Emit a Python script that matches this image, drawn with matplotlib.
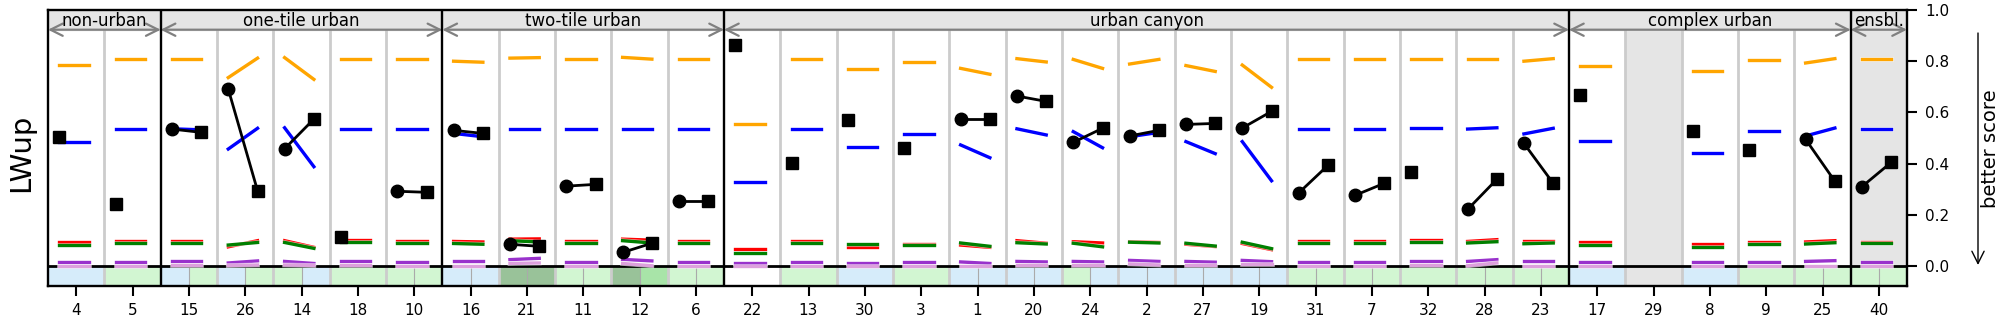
import numpy as np
import matplotlib.pyplot as plt
import matplotlib.patheffects as pe

nan = np.nan

sites = [4, 5, 15, 26, 14, 18, 10, 16, 21, 11, 12, 6, 22, 13, 30, 3, 1, 20, 24, 2,
         27, 19, 31, 7, 32, 28, 23, 17, 29, 8, 9, 25, 40]
group_names = ["non-urban", "one-tile urban", "two-tile urban", "urban canyon",
               "complex urban", "ensbl."]
group_sizes = [2, 5, 5, 15, 5, 1]

# black markers: stage 1 (circle) and stage 2 (square)
obs_circle = [nan, nan, 0.535, 0.691, 0.458, nan, 0.292, 0.530, 0.085, 0.312, 0.053,
              0.253, nan, nan, nan, nan, 0.574, 0.664, 0.483, 0.508, 0.553, 0.539,
              0.285, 0.276, nan, 0.221, 0.479, nan, nan, nan, nan, 0.495, 0.310]
obs_square = [0.505, 0.241, 0.522, 0.294, 0.574, 0.112, 0.288, 0.518, 0.077, 0.319,
              0.089, 0.253, 0.862, 0.401, 0.569, 0.460, 0.574, 0.643, 0.538, 0.530,
              0.557, 0.604, 0.393, 0.323, 0.366, 0.339, 0.323, 0.669, nan, 0.526,
              0.453, 0.331, 0.405]

# benchmark scores, value at stage 1 and stage 2
orange_start = [0.784, 0.807, 0.810, 0.736, 0.814, 0.807, 0.807, 0.800, 0.812, 0.807,
                0.815, 0.807, 0.553, 0.807, 0.768, 0.796, 0.772, 0.810, 0.807, 0.789,
                0.783, 0.785, 0.807, 0.807, 0.807, 0.807, 0.800, 0.780, nan, 0.762,
                0.803, 0.793, 0.807]
orange_end = [0.784, 0.807, 0.810, 0.812, 0.729, 0.807, 0.807, 0.796, 0.814, 0.807,
              0.808, 0.807, 0.553, 0.807, 0.768, 0.796, 0.749, 0.797, 0.772, 0.807,
              0.760, 0.698, 0.807, 0.807, 0.807, 0.807, 0.810, 0.780, nan, 0.762,
              0.803, 0.810, 0.807]
blue_start = [0.483, 0.535, 0.536, 0.457, 0.540, 0.535, 0.535, 0.518, 0.535, 0.535,
              0.536, 0.535, 0.327, 0.535, 0.465, 0.514, 0.473, 0.536, 0.525, 0.505,
              0.486, 0.486, 0.535, 0.535, 0.538, 0.535, 0.516, 0.487, nan, 0.440,
              0.526, 0.508, 0.535]
blue_end = [0.483, 0.535, 0.532, 0.538, 0.388, 0.535, 0.535, 0.505, 0.535, 0.535,
            0.536, 0.535, 0.327, 0.535, 0.465, 0.514, 0.423, 0.512, 0.462, 0.522,
            0.439, 0.333, 0.535, 0.535, 0.538, 0.540, 0.538, 0.487, nan, 0.440,
            0.526, 0.539, 0.535]
red_start = [0.092, 0.098, 0.099, 0.075, 0.099, 0.100, 0.099, 0.096, 0.105, 0.099,
             0.105, 0.099, 0.065, 0.099, 0.075, 0.087, 0.082, 0.099, 0.095, 0.095,
             0.085, 0.088, 0.099, 0.099, 0.103, 0.096, 0.099, 0.092, nan, 0.085,
             0.094, 0.094, 0.094]
red_end = [0.092, 0.098, 0.099, 0.099, 0.073, 0.100, 0.099, 0.094, 0.106, 0.099,
           0.101, 0.099, 0.065, 0.099, 0.075, 0.087, 0.073, 0.089, 0.090, 0.092,
           0.076, 0.064, 0.099, 0.099, 0.103, 0.103, 0.099, 0.092, nan, 0.085,
           0.094, 0.099, 0.094]
green_start = [0.082, 0.090, 0.090, 0.082, 0.092, 0.094, 0.090, 0.088, 0.099, 0.090,
               0.099, 0.090, 0.052, 0.090, 0.085, 0.084, 0.090, 0.091, 0.089, 0.093,
               0.089, 0.093, 0.090, 0.090, 0.095, 0.090, 0.087, 0.082, nan, 0.076,
               0.087, 0.086, 0.090]
green_end = [0.082, 0.090, 0.090, 0.092, 0.069, 0.094, 0.090, 0.085, 0.094, 0.090,
             0.090, 0.090, 0.052, 0.090, 0.085, 0.084, 0.077, 0.086, 0.075, 0.090,
             0.078, 0.068, 0.090, 0.090, 0.095, 0.095, 0.090, 0.082, nan, 0.076,
             0.087, 0.091, 0.090]
purple_start = [0.015, 0.016, 0.018, 0.012, 0.018, 0.020, 0.016, 0.018, 0.025, 0.016,
                0.026, 0.016, 0.012, 0.016, 0.012, 0.015, 0.016, 0.018, 0.018, 0.022,
                0.018, 0.022, 0.016, 0.016, 0.021, 0.018, 0.018, 0.016, nan, 0.016,
                0.016, 0.018, 0.016]
purple_end = [0.015, 0.016, 0.018, 0.020, 0.010, 0.020, 0.016, 0.018, 0.030, 0.016,
              0.020, 0.016, 0.012, 0.016, 0.012, 0.015, 0.010, 0.016, 0.016, 0.018,
              0.015, 0.017, 0.016, 0.016, 0.021, 0.025, 0.018, 0.016, nan, 0.016,
              0.016, 0.021, 0.016]
plum_start = [0.002, 0.002, 0.003, 0.002, 0.004, 0.005, 0.002, 0.002, 0.010, 0.002,
              0.010, 0.002, 0.000, 0.002, 0.000, 0.002, 0.002, 0.003, 0.003, 0.008,
              0.003, 0.006, 0.002, 0.002, 0.005, 0.001, 0.002, 0.002, nan, 0.002,
              0.002, 0.002, 0.002]
plum_end = [0.002, 0.002, 0.003, 0.004, 0.002, 0.005, 0.002, 0.002, 0.012, 0.002,
            0.001, 0.002, 0.000, 0.002, 0.000, 0.002, 0.002, 0.003, 0.003, 0.004,
            0.003, 0.006, 0.002, 0.002, 0.005, 0.012, 0.002, 0.002, nan, 0.002,
            0.002, 0.002, 0.002]

# category strip under the zero line, left and right half of each site
band_left = ["b", "g", "b", "b", "g", "g", "g", "b", "d", "g", "d", "g", "w", "g", "b",
             "g", "b", "b", "g", "b", "b", "b", "g", "g", "g", "g", "g", "b", "x", "b",
             "g", "g", "g"]
band_right = ["b", "g", "g", "g", "b", "g", "g", "b", "d", "g", "m", "g", "w", "g", "b",
              "g", "b", "b", "b", "b", "b", "b", "g", "g", "g", "g", "g", "b", "x", "b",
              "g", "g", "g"]
band_colors = {"b": "#d6ecfa", "g": "#d2f6d2", "d": "#99c299", "m": "#a8e4a8",
               "w": "white", "x": "#e5e5e5"}


def plot_lwup(fname="out.png"):
    n = len(sites)
    ybot, yhead = -0.078, 0.923
    x1, x2 = -0.3, 0.22

    fig = plt.figure(figsize=(20.05, 3.25), dpi=100)
    ax = fig.add_axes([48 / 2005, 1 - 286 / 325, 1859 / 2005, 276 / 325])
    ax.set_xlim(-0.5, n - 0.5)
    ax.set_ylim(ybot, 1.0)

    # header strip; grey columns for missing sites and the ensemble
    ax.axhspan(yhead, 1.0, color="#e5e5e5", zorder=0)
    for i in range(n):
        if np.isnan(obs_square[i]) or i == n - 1:
            ax.fill_between([i - 0.5, i + 0.5], 0, yhead, color="#e5e5e5", lw=0, zorder=0)

    # bottom category strip
    for i in range(n):
        if np.isnan(obs_circle[i]):
            ax.bar(i - 0.5, -ybot, width=1.0, bottom=ybot, align="edge",
                   color=band_colors[band_left[i]], lw=0, zorder=0)
        else:
            ax.bar(i - 0.5, -ybot, width=0.5, bottom=ybot, align="edge",
                   color=band_colors[band_left[i]], lw=0, zorder=0)
            ax.bar(i, -ybot, width=0.5, bottom=ybot, align="edge",
                   color=band_colors[band_right[i]], lw=0, zorder=0)
            ax.plot([i, i], [ybot, 0], color="#aaaaaa", lw=0.8, zorder=1)

    # column separators
    edges = np.cumsum(group_sizes) - 0.5
    for b in np.arange(0.5, n - 0.5, 1.0):
        if b in edges:
            ax.axvline(b, color="k", lw=1.7, zorder=4)
        else:
            ax.plot([b, b], [ybot, yhead], color="#cccccc", lw=2, zorder=1)

    # group labels with arrows
    start = -0.5
    for name, size in zip(group_names, group_sizes):
        end = start + size
        ax.annotate("", xy=(end, yhead), xytext=(start, yhead),
                    arrowprops=dict(arrowstyle="<->", color="gray", lw=1.6,
                                    shrinkA=0, shrinkB=0, mutation_scale=22),
                    zorder=3)
        ax.text((start + end) / 2, 0.958, name, ha="center", va="center", fontsize=12)
        start = end

    ax.axhline(0, color="k", lw=2, zorder=2)

    halo = [pe.Stroke(linewidth=3.4, foreground="white", alpha=0.6), pe.Normal()]
    series = [
        (orange_start, orange_end, "orange"),
        (blue_start, blue_end, "blue"),
        (red_start, red_end, "red"),
        (green_start, green_end, "green"),
        (purple_start, purple_end, "darkorchid"),
        (plum_start, plum_end, "plum"),
    ]
    for s0, s1, color in series:
        for i in range(n):
            if np.isnan(s0[i]):
                continue
            ax.plot([i + x1, i + x2], [s0[i], s1[i]], color=color, lw=2.4,
                    path_effects=halo, zorder=3)

    for i in range(n):
        c, s = obs_circle[i], obs_square[i]
        if np.isnan(s):
            continue
        if np.isnan(c):
            ax.plot(i + x1, s, "ks", ms=9, zorder=6)
        else:
            ax.plot([i + x1, i + x2], [c, s], "k-", lw=2, zorder=5)
            ax.plot(i + x1, c, "ko", ms=9, zorder=6)
            ax.plot(i + x2, s, "ks", ms=9, zorder=6)

    ax.set_xticks(range(n))
    ax.set_xticklabels(sites)
    ax.yaxis.tick_right()
    ax.set_yticks([0.0, 0.2, 0.4, 0.6, 0.8, 1.0])
    ax.tick_params(axis="both", length=7, width=1.5, labelsize=11)
    ax.tick_params(axis="x", pad=5)
    ax.tick_params(axis="y", pad=6)
    for sp in ax.spines.values():
        sp.set_linewidth(1.7)

    fig.text(21 / 2005, 0.53, "LWup", rotation=90, ha="center", va="center", fontsize=21)
    fig.text(1990 / 2005, 0.5415, "better score", rotation=90, ha="center",
             va="center", fontsize=14)
    ax.annotate("", xy=(1978 / 2005, 1 - 265 / 325), xytext=(1978 / 2005, 1 - 33 / 325),
                xycoords="figure fraction", textcoords="figure fraction",
                arrowprops=dict(arrowstyle="->", color="k", lw=1, mutation_scale=22,
                                shrinkA=0, shrinkB=0),
                annotation_clip=False)

    fig.savefig(fname, dpi=100)


if __name__ == "__main__":
    plot_lwup()
